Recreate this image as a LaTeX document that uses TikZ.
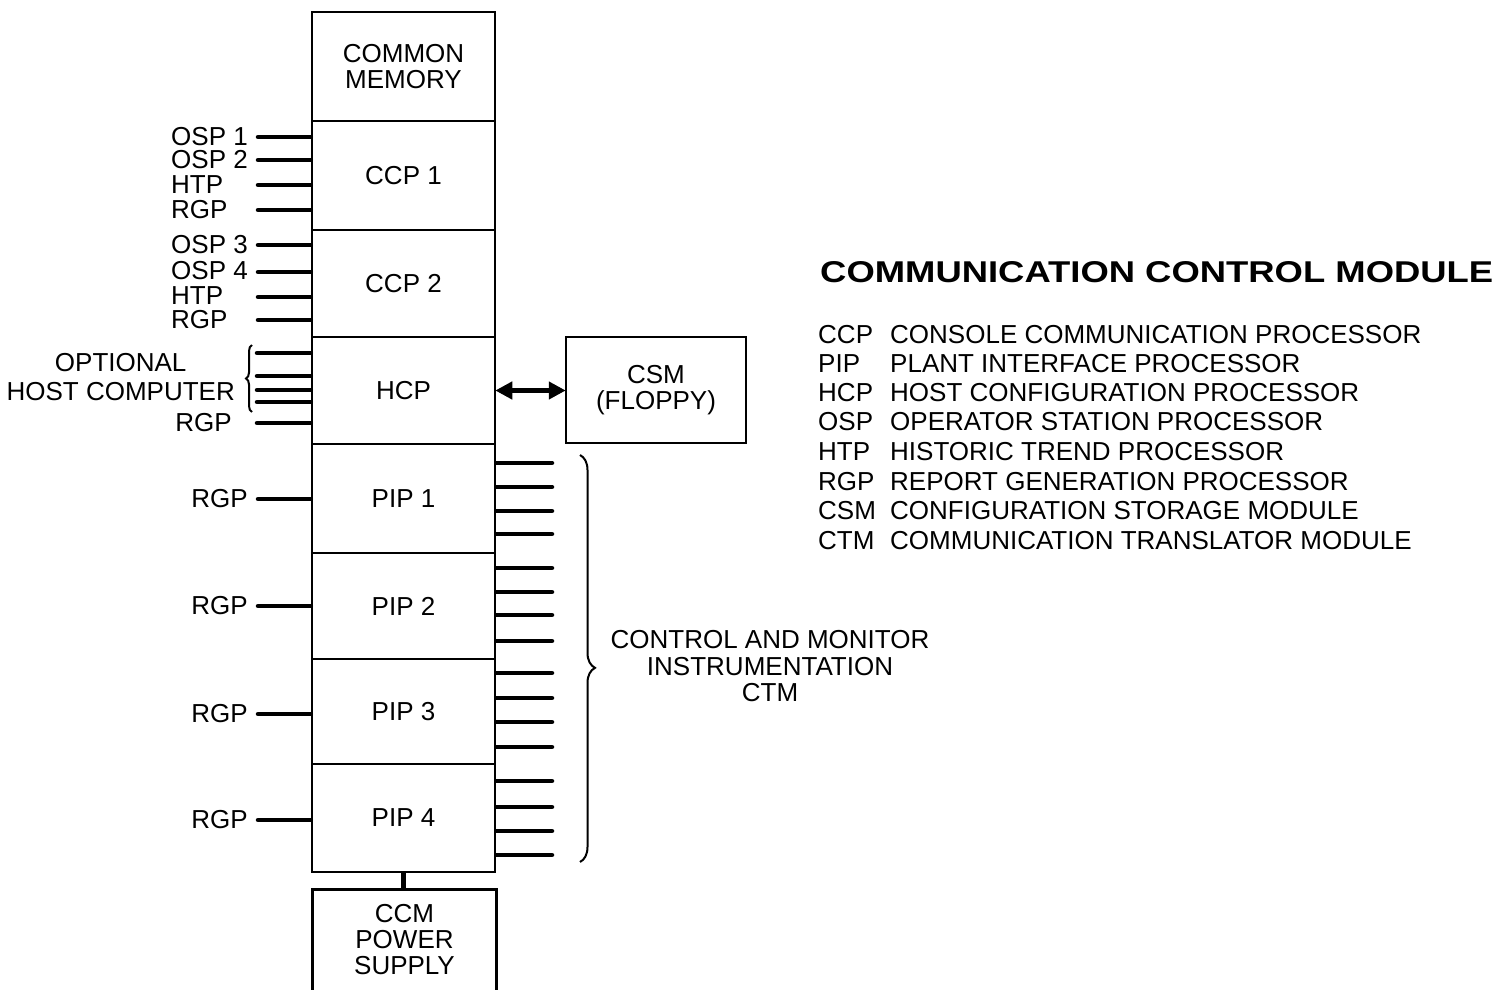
\documentclass[tikz,border=0pt]{standalone}
\usepackage{fontspec}
\setmainfont{Liberation Sans}
\usepackage{graphicx}
\usetikzlibrary{arrows.meta,decorations.pathreplacing}
\begin{document}
\begin{tikzpicture}[x=1pt,y=-1pt,
  every node/.style={font=\fontsize{26}{26}\selectfont, inner sep=0pt},
  box/.style={draw, line width=2.5pt, minimum width=183pt, align=center},
  stub/.style={line width=4.5pt, line cap=round},
  dbl/.style={line width=4.5pt, {Triangle[length=17pt,width=17pt]}-{Triangle[length=17pt,width=17pt]}, shorten <=-1pt, shorten >=-1pt},
  bracebig/.style={line width=2pt, decorate, decoration={brace, amplitude=15pt, aspect=0.523}},
  bracesmall/.style={line width=2pt, decorate, decoration={brace, amplitude=6pt}},
  lbl/.style={anchor=west},
  lblr/.style={anchor=east},
  ]
\useasboundingbox (0,0) rectangle (1499,990);

% main column
\node[box, minimum height=109pt] (cm)   at (403.5,66.5)  {COMMON\\MEMORY};
\node[box, minimum height=109pt] (ccp1) at (403.5,175.5) {CCP 1};
\node[box, minimum height=107pt] (ccp2) at (403.5,283.5) {CCP 2};
\node[box, minimum height=107pt] (hcp)  at (403.5,390.5) {HCP};
\node[box, minimum height=109pt] (pip1) at (403.5,498.5) {PIP 1};
\node[box, minimum height=106pt] (pip2) at (403.5,606)   {PIP 2};
\node[box, minimum height=105pt] (pip3) at (403.5,711.5) {PIP 3};
\node[box, minimum height=108pt] (pip4) at (403.5,818)   {PIP 4};
\node[box, minimum width=184pt, minimum height=140pt, anchor=north] (psu) at (404.5,888) {};
\node[align=center, anchor=north, font=\fontsize{26}{26}\selectfont] (psutext) at (404.5,904) {CCM\\POWER\\SUPPLY};
\draw[line width=5pt] (pip4.south) -- (pip4.south |- psu.north);

% CSM
\node[box, minimum width=180pt, minimum height=106pt] (csm) at (656,390) {CSM\\(FLOPPY)};
\draw[dbl] (hcp.east) -- (csm.west |- hcp.east);

% CCP 1 inputs
\node[lbl] (l1) at (171,137) {OSP 1};
\node[lbl] (l2) at (171,160) {OSP 2};
\node[lbl] (l3) at (171,185) {HTP};
\node[lbl] (l4) at (171,210) {RGP};
\coordinate (a1) at (258,137);
\coordinate (a2) at (258,160);
\coordinate (a3) at (258,185);
\coordinate (a4) at (258,210);
\foreach \i in {1,...,4} {\draw[stub] (a\i) -- (a\i -| ccp1.west);}

% CCP 2 inputs
\node[lbl] (l5) at (171,245) {OSP 3};
\node[lbl] (l6) at (171,271) {OSP 4};
\node[lbl] (l7) at (171,296) {HTP};
\node[lbl] (l8) at (171,320) {RGP};
\coordinate (a5) at (258,245);
\coordinate (a6) at (258,272);
\coordinate (a7) at (258,297);
\coordinate (a8) at (258,320);
\foreach \i in {5,...,8} {\draw[stub] (a\i) -- (a\i -| ccp2.west);}

% HCP inputs
\node[align=center, lblr, font=\fontsize{26}{29}\selectfont] (host) at (235,377.5) {OPTIONAL\\HOST COMPUTER};
\node[lblr] (l9) at (232,423) {RGP};
\coordinate (h1) at (257,353);
\coordinate (h2) at (257,376);
\coordinate (h3) at (257,390);
\coordinate (h4) at (257,402);
\coordinate (h5) at (257,423);
\foreach \i in {1,...,5} {\draw[stub] (h\i) -- (h\i -| hcp.west);}
\draw[bracesmall] (252,412) -- (252,345);

% PIP RGP inputs
\node[lblr] (p1) at (248,499) {RGP};
\node[lblr] (p2) at (248,606) {RGP};
\node[lblr] (p3) at (248,714) {RGP};
\node[lblr] (p4) at (248,820) {RGP};
\coordinate (q1) at (258,499);
\coordinate (q2) at (258,606);
\coordinate (q3) at (258,714);
\coordinate (q4) at (258,820);
\draw[stub] (q1) -- (q1 -| pip1.west);
\draw[stub] (q2) -- (q2 -| pip2.west);
\draw[stub] (q3) -- (q3 -| pip3.west);
\draw[stub] (q4) -- (q4 -| pip4.west);

% PIP outputs
\foreach \y [count=\i] in {463,487,511,534} {\coordinate (r\i) at (552,\y); \draw[stub] (r\i -| pip1.east) -- (r\i);}
\foreach \y [count=\i from 5] in {568,592,615,641} {\coordinate (r\i) at (552,\y); \draw[stub] (r\i -| pip2.east) -- (r\i);}
\foreach \y [count=\i from 9] in {673,698,722,747} {\coordinate (r\i) at (552,\y); \draw[stub] (r\i -| pip3.east) -- (r\i);}
\foreach \y [count=\i from 13] in {781,807,831,855} {\coordinate (r\i) at (552,\y); \draw[stub] (r\i -| pip4.east) -- (r\i);}
\draw[bracebig] (580,455) -- (580,862);
\node[align=center, font=\fontsize{26}{26.5}\selectfont] (ctm) at (770,666.5) {CONTROL AND MONITOR\\INSTRUMENTATION\\CTM};

% Legend
\node[lbl] (title) at (820,272.5) {\resizebox{673pt}{21pt}{\bfseries COMMUNICATION CONTROL MODULE}};
\foreach \ab/\tx/\y [count=\i] in {CCP/CONSOLE COMMUNICATION PROCESSOR/335,
    PIP/PLANT INTERFACE PROCESSOR/364,
    HCP/HOST CONFIGURATION PROCESSOR/393,
    OSP/OPERATOR STATION PROCESSOR/422,
    HTP/HISTORIC TREND PROCESSOR/452,
    RGP/REPORT GENERATION PROCESSOR/482,
    CSM/CONFIGURATION STORAGE MODULE/511,
    CTM/COMMUNICATION TRANSLATOR MODULE/541} {
  \node[lbl] (ab\i) at (818,\y) {\ab};
  \node[lbl] (tx\i) at (890,\y) {\tx};
}
\end{tikzpicture}
\end{document}
